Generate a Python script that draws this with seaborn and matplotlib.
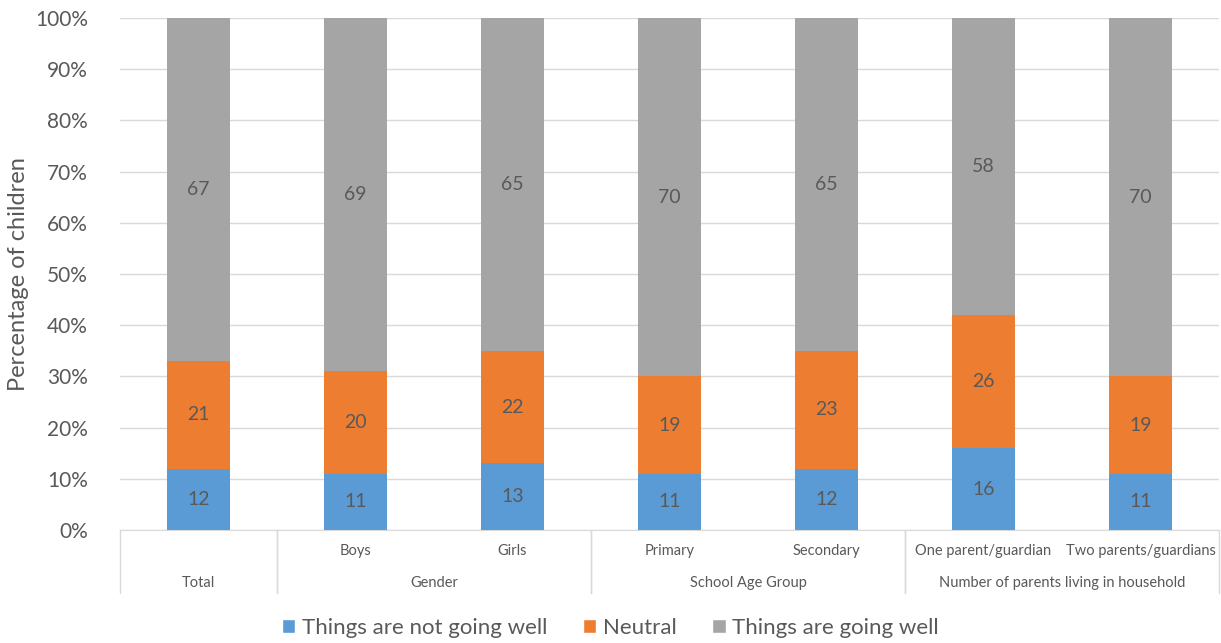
import numpy as np
import pandas as pd
import seaborn as sns
import matplotlib.pyplot as plt
from matplotlib.patches import Patch

# data
categories = ["Total", "Boys", "Girls", "Primary", "Secondary",
              "One parent/guardian", "Two parents/guardians"]
sub_labels = ["", "Boys", "Girls", "Primary", "Secondary",
              "One parent/guardian", "Two parents/guardians"]
groups = ["Total", "Gender", "School Age Group", "Number of parents living in household"]
group_spans = [(0, 1), (1, 3), (3, 5), (5, 7)]
not_well = [12, 11, 13, 11, 12, 16, 11]
neutral = [21, 20, 22, 19, 23, 26, 19]
going_well = [67, 69, 65, 70, 65, 58, 70]
series = ["Things are not going well", "Neutral", "Things are going well"]
colors = ["#5B9BD5", "#ED7D31", "#A5A5A5"]

sns.set_style("white")
plt.rcParams['font.family'] = ['Lato', 'DejaVu Sans']
txt = "#595959"

df = pd.DataFrame({"cat": categories, "nw": not_well, "ne": neutral, "gw": going_well})
df["c1"] = df["nw"]
df["c2"] = df["nw"] + df["ne"]
df["c3"] = df["c2"] + df["gw"]

fig = plt.figure(figsize=(12.21, 6.43), dpi=100)
ax = fig.add_axes([120 / 1221, 113 / 643, 1099 / 1221, 512 / 643])

# stacked look: draw cumulative totals, tallest first
for col, c in zip(["c3", "c2", "c1"], colors[::-1]):
    sns.barplot(data=df, x="cat", y=col, order=categories, color=c,
                width=0.4, saturation=1, linewidth=0, ax=ax, zorder=3)

# data labels
for i in range(len(categories)):
    ax.text(i, not_well[i] / 2, str(not_well[i]), ha="center", va="center", fontsize=14, color=txt, zorder=4)
    ax.text(i, not_well[i] + neutral[i] / 2, str(neutral[i]), ha="center", va="center", fontsize=14, color=txt, zorder=4)
    ax.text(i, not_well[i] + neutral[i] + going_well[i] / 2, str(going_well[i]), ha="center", va="center", fontsize=14, color=txt, zorder=4)

ax.set_ylim(0, 100)
ax.set_xlim(-0.5, len(categories) - 0.5)
ax.set_yticks(np.arange(0, 101, 10))
ax.set_yticklabels([f"{v}%" for v in range(0, 101, 10)], fontsize=15, color=txt)
ax.yaxis.grid(True, color="#D9D9D9", linewidth=1, zorder=0)
ax.set_axisbelow(True)
ax.tick_params(axis="y", length=0, pad=23)
ax.set_xticks([])
ax.set_xlabel("")
ax.set_ylabel("Percentage of children", fontsize=17, color=txt, labelpad=4)
for s in ["top", "right", "left"]:
    ax.spines[s].set_visible(False)
ax.spines["bottom"].set_color("#D9D9D9")

# two-level category axis
trans = ax.get_xaxis_transform()
for i, lab in enumerate(sub_labels):
    ax.text(i, -0.041, lab, transform=trans, ha="center", va="center", fontsize=10.5, color=txt)
for g, (a, b) in zip(groups, group_spans):
    ax.text((a + b - 1) / 2, -0.103, g, transform=trans, ha="center", va="center", fontsize=10.5, color=txt)
for a, b in group_spans:
    for xx in (a - 0.5, b - 0.5):
        ax.plot([xx, xx], [0, -0.123], transform=trans, color="#D9D9D9", lw=1, clip_on=False)

handles = [Patch(facecolor=c, label=s) for c, s in zip(colors, series)]
fig.legend(handles=handles, loc="center", bbox_to_anchor=(0.5, 1 - 628 / 643), ncol=3,
           frameon=False, fontsize=16, labelcolor=txt, handlelength=0.6, handleheight=0.6,
           handletextpad=0.3, columnspacing=1.6)

fig.savefig("out.png", dpi=100)
